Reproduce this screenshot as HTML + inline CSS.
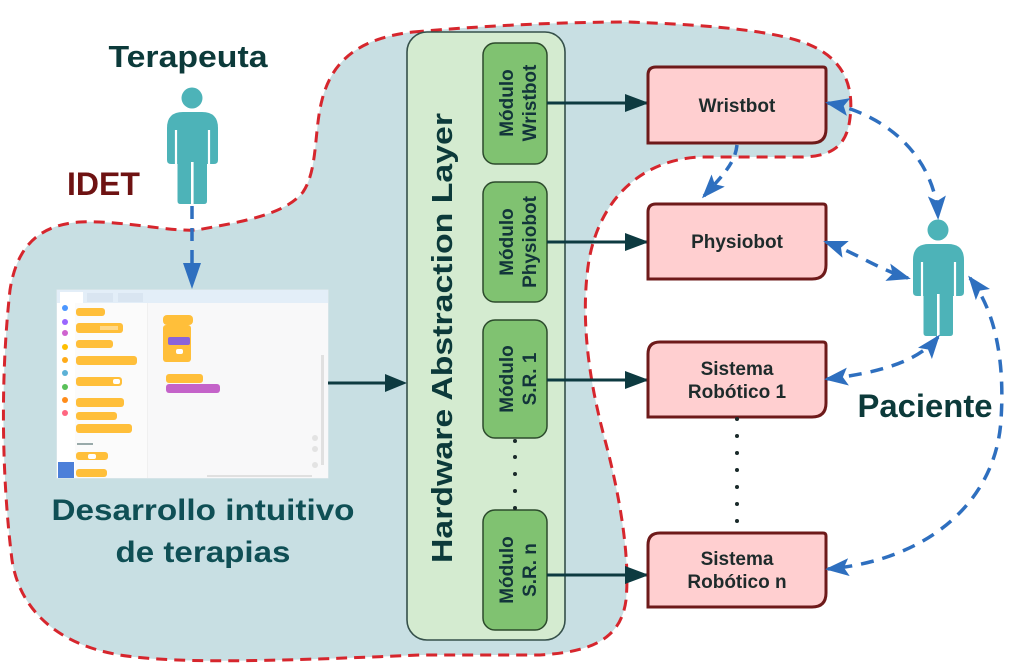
<!DOCTYPE html>
<html>
<head>
<meta charset="utf-8">
<style>
  html,body{margin:0;padding:0;background:#fff;}
  svg{display:block;}
  text{font-family:"Liberation Sans", sans-serif;font-weight:bold;}
</style>
</head>
<body>
<svg width="1015" height="672" viewBox="0 0 1015 672" xmlns="http://www.w3.org/2000/svg">
  <defs>
    <marker id="bh" viewBox="0 0 24 18" refX="21" refY="9" markerWidth="24" markerHeight="18" markerUnits="userSpaceOnUse" orient="auto-start-reverse">
      <path d="M0,0 L24,9 L0,18 L5,9 Z" fill="#2e6fbf"/>
    </marker>
    <marker id="dh" viewBox="0 0 24 18" refX="23" refY="9" markerWidth="24" markerHeight="18" markerUnits="userSpaceOnUse" orient="auto">
      <path d="M0,0 L24,9 L0,18 Z" fill="#0d3a40"/>
    </marker>
    <g id="person">
      <circle cx="192" cy="98" r="10.5" fill="#4db3b8"/>
      <path d="M167,160 L167,128 Q167,112 183,112 L202,112 Q218,112 218,128 L218,160 Q218,164 214,164 L171,164 Q167,164 167,160 Z" fill="#4db3b8"/>
      <path d="M177.5,140 L207,140 L207,201 Q207,204 204,204 L180.5,204 Q177.5,204 177.5,201 Z" fill="#4db3b8"/>
      <line x1="176" y1="130" x2="176" y2="166" stroke="#fff" stroke-width="2.2"/>
      <line x1="209" y1="130" x2="209" y2="166" stroke="#fff" stroke-width="2.2"/>
      <line x1="192.3" y1="162" x2="192.3" y2="206" stroke="#fff" stroke-width="2.6"/>
    </g>
  </defs>

  <!-- IDET blob -->
  <path d="M413,32 C480,26 560,22 627,22 C720,25 780,32 810,45 C850,62 853,95 850,118 C847,145 833,157 800,157 L700,157 C640,160 600,200 589,260 C581,310 586,370 605,440 C621,500 630,560 626,600 C621,640 590,652 540,655 L420,655 C300,660 180,665 120,655 C60,645 20,612 12,560 C2,480 0,380 10,290 C17,245 40,225 80,222 C120,220 170,232 197,230 C240,222 285,215 303,192 C318,170 314,130 322,100 C332,60 360,38 413,32 Z"
        fill="#c8dfe3" stroke="#d6262d" stroke-width="3" stroke-dasharray="11 7"/>

  <!-- Labels -->
  <text x="188" y="67" font-size="31" fill="#0c3a3a" text-anchor="middle" textLength="159" lengthAdjust="spacingAndGlyphs">Terapeuta</text>
  <text x="67" y="195" font-size="32" fill="#6e1212">IDET</text>
  <text x="925" y="417" font-size="32" fill="#0c3a3a" text-anchor="middle" textLength="135" lengthAdjust="spacingAndGlyphs">Paciente</text>
  <text x="203" y="520" font-size="30" fill="#0f4f55" text-anchor="middle" textLength="303" lengthAdjust="spacingAndGlyphs">Desarrollo intuitivo</text>
  <text x="203" y="562" font-size="30" fill="#0f4f55" text-anchor="middle" textLength="175" lengthAdjust="spacingAndGlyphs">de terapias</text>

  <!-- persons -->
  <use href="#person"/>
  <g transform="translate(746,132)"><use href="#person"/></g>

  <!-- Screenshot (scratch-like editor) -->
  <g>
    <rect x="57" y="290" width="271" height="188" fill="#f6f8fa" stroke="#e2e8ee" stroke-width="1"/>
    <rect x="57" y="290" width="271" height="13" fill="#e3eef8"/>
    <rect x="60" y="292" width="23" height="11" fill="#ffffff"/>
    <rect x="87" y="293" width="26" height="9" fill="#d9e5f1"/>
    <rect x="118" y="293" width="25" height="9" fill="#d9e5f1"/>
    <rect x="57" y="303" width="18" height="175" fill="#ffffff"/>
    <rect x="75" y="303" width="73" height="175" fill="#fbfbfb"/>
    <line x1="148" y1="303" x2="148" y2="478" stroke="#e6e6e6" stroke-width="1"/>
    <rect x="148" y="303" width="180" height="175" fill="#f8f8f9"/>
    <circle cx="65" cy="308" r="3" fill="#4c97ff"/>
    <circle cx="65" cy="322" r="3" fill="#9966ff"/>
    <circle cx="65" cy="333" r="3" fill="#cf63cf"/>
    <circle cx="65" cy="347" r="3" fill="#ffbf00"/>
    <circle cx="65" cy="360" r="3" fill="#ffab19"/>
    <circle cx="65" cy="373" r="3" fill="#5cb1d6"/>
    <circle cx="65" cy="387" r="3" fill="#59c059"/>
    <circle cx="65" cy="400" r="3" fill="#ff8c1a"/>
    <circle cx="65" cy="413" r="3" fill="#ff6680"/>
    <g fill="#ffbf3a">
      <rect x="76" y="308" width="29" height="8" rx="3"/>
      <rect x="76" y="323" width="47" height="10" rx="3"/>
      <rect x="76" y="340" width="37" height="8" rx="3"/>
      <rect x="76" y="356" width="61" height="9" rx="3"/>
      <rect x="76" y="377" width="46" height="9" rx="3"/>
      <rect x="76" y="398" width="48" height="9" rx="3"/>
      <rect x="76" y="412" width="41" height="8" rx="3"/>
      <rect x="76" y="424" width="56" height="9" rx="3"/>
      <rect x="76" y="452" width="32" height="8" rx="3"/>
      <rect x="76" y="469" width="31" height="8" rx="3"/>
    </g>
    <rect x="113" y="379" width="7" height="5" rx="2" fill="#fff"/>
    <rect x="88" y="454" width="8" height="5" rx="2" fill="#fff"/>
    <rect x="77" y="443" width="16" height="2" fill="#9aa"/>
    <rect x="100" y="326" width="18" height="4" fill="#ffd98a"/>
    <g fill="#ffbf3a">
      <rect x="163" y="315" width="30" height="10" rx="4"/>
      <rect x="163" y="325" width="28" height="37" rx="3"/>
      <rect x="166" y="374" width="37" height="9" rx="3"/>
    </g>
    <rect x="168" y="337" width="22" height="8" rx="2" fill="#8a63d9"/>
    <rect x="176" y="349" width="7" height="5" rx="2" fill="#fff"/>
    <rect x="166" y="384" width="54" height="9" rx="3" fill="#c463c9"/>
    <rect x="321" y="355" width="3" height="110" fill="#e0e0e0"/>
    <circle cx="315" cy="438" r="3" fill="#e3e3e3"/>
    <circle cx="315" cy="449" r="3" fill="#e3e3e3"/>
    <circle cx="315" cy="465" r="3" fill="#e3e3e3"/>
    <line x1="207" y1="476" x2="312" y2="476" stroke="#e0e0e0" stroke-width="2"/>
    <rect x="58" y="462" width="16" height="16" fill="#4c7fd9"/>
  </g>

  <!-- arrow screenshot -> HAL -->
  <line x1="328" y1="383" x2="386" y2="383" stroke="#0d3a40" stroke-width="3"/>
  <path d="M385,374 L407,383 L385,392 Z" fill="#0d3a40"/>

  <!-- HAL -->
  <rect x="407" y="32" width="158" height="608" rx="20" ry="20" fill="#d4ebd0" stroke="#35504a" stroke-width="1.6"/>
  <g transform="translate(452,338) rotate(-90)">
    <text x="0" y="0" font-size="29" fill="#0c3a3a" text-anchor="middle" textLength="450" lengthAdjust="spacingAndGlyphs">Hardware Abstraction Layer</text>
  </g>

  <!-- modules -->
  <g fill="#80c271" stroke="#2c4a2c" stroke-width="1.5">
    <rect x="483" y="43" width="64" height="121" rx="12"/>
    <rect x="483" y="182" width="64" height="120" rx="12"/>
    <rect x="483" y="320" width="64" height="118" rx="12"/>
    <rect x="483" y="510" width="64" height="120" rx="12"/>
  </g>
  <g font-size="19" fill="#12343a" text-anchor="middle">
    <g transform="translate(515,103) rotate(-90)">
      <text x="0" y="-2">Módulo</text>
      <text x="0" y="21">Wristbot</text>
    </g>
    <g transform="translate(515,242) rotate(-90)">
      <text x="0" y="-2">Módulo</text>
      <text x="0" y="21">Physiobot</text>
    </g>
    <g transform="translate(515,379) rotate(-90)">
      <text x="0" y="-2">Módulo</text>
      <text x="0" y="21">S.R. 1</text>
    </g>
    <g transform="translate(515,570) rotate(-90)">
      <text x="0" y="-2">Módulo</text>
      <text x="0" y="21">S.R. n</text>
    </g>
  </g>
  <g fill="#1a2a2a">
    <circle cx="515" cy="441" r="2"/>
    <circle cx="515" cy="457" r="2"/>
    <circle cx="515" cy="474" r="2"/>
    <circle cx="515" cy="491" r="2"/>
    <circle cx="515" cy="508" r="2"/>
  </g>

  <!-- module -> robot arrows -->
  <g stroke="#0d3a40" stroke-width="3" fill="none" marker-end="url(#dh)">
    <line x1="547" y1="103" x2="648" y2="103"/>
    <line x1="547" y1="242" x2="648" y2="242"/>
    <line x1="547" y1="380" x2="648" y2="380"/>
    <line x1="547" y1="575" x2="648" y2="575"/>
  </g>

  <!-- robot boxes -->
  <g fill="#ffcfd0" stroke="#6e1a1a" stroke-width="3">
    <path d="M656,67 L823,67 Q826,67 826,70 L826,129 Q826,143 812,143 L648,143 L648,75 Q648,67 656,67 Z"/>
    <path d="M656,204 L823,204 Q826,204 826,207 L826,265 Q826,279 812,279 L648,279 L648,212 Q648,204 656,204 Z"/>
    <path d="M660,342 L823,342 Q826,342 826,345 L826,403 Q826,417 812,417 L648,417 L648,354 Q648,342 660,342 Z"/>
    <path d="M660,533 L823,533 Q826,533 826,536 L826,593 Q826,607 812,607 L648,607 L648,545 Q648,533 660,533 Z"/>
  </g>
  <g font-size="19" fill="#1e2b2b" text-anchor="middle">
    <text x="737" y="112">Wristbot</text>
    <text x="737" y="248">Physiobot</text>
    <text x="737" y="375">Sistema</text>
    <text x="737" y="398">Robótico 1</text>
    <text x="737" y="565">Sistema</text>
    <text x="737" y="588">Robótico n</text>
  </g>
  <g fill="#1a2a2a">
    <circle cx="737" cy="419" r="2"/>
    <circle cx="737" cy="436" r="2"/>
    <circle cx="737" cy="453" r="2"/>
    <circle cx="737" cy="470" r="2"/>
    <circle cx="737" cy="487" r="2"/>
    <circle cx="737" cy="504" r="2"/>
    <circle cx="737" cy="521" r="2"/>
  </g>

  <!-- blue dashed arrows -->
  <g stroke="#2e6fbf" stroke-width="3.5" fill="none" stroke-dasharray="13 9">
    <line x1="192" y1="206" x2="192" y2="266"/>
    <path d="M737,145 C735,162 726,172 704,196" marker-end="url(#bh)" stroke-dasharray="10 8"/>
    <path d="M828,103 C890,115 935,160 938,217" marker-start="url(#bh)" marker-end="url(#bh)"/>
    <path d="M826,242 C858,254 880,270 908,278" marker-start="url(#bh)" marker-end="url(#bh)"/>
    <path d="M827,379 C878,373 918,362 938,337" marker-start="url(#bh)" marker-end="url(#bh)"/>
    <path d="M970,278 C995,310 1005,360 1001,420 C996,500 930,560 828,569" marker-start="url(#bh)" marker-end="url(#bh)"/>
  </g>
  <path d="M183,263 L201,263 L192,289 Z" fill="#2e6fbf"/>
</svg>
</body>
</html>
